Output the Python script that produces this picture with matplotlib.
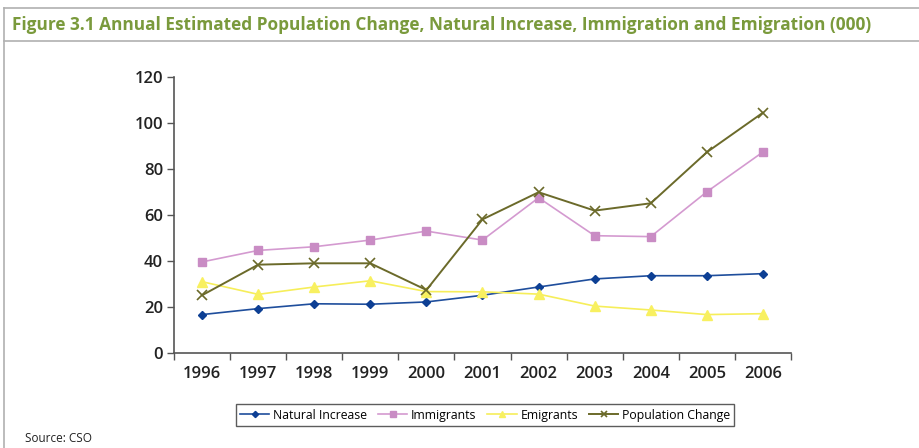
import matplotlib.pyplot as plt
from matplotlib.lines import Line2D
import numpy as np

OUTPUT_GRAPH = "out.png"

years = ["1996", "1997", "1998", "1999", "2000", "2001",
         "2002", "2003", "2004", "2005", "2006"]
natural_increase = [16.7, 19.3, 21.4, 21.2, 22.2, 25.1, 28.7, 32.2, 33.6, 33.6, 34.5]
immigrants = [39.6, 44.6, 46.2, 49.1, 53.0, 49.1, 67.5, 51.0, 50.6, 70.1, 87.4]
emigrants = [31.0, 25.5, 28.7, 31.4, 26.7, 26.6, 25.6, 20.4, 18.7, 16.7, 17.1]
population_change = [25.1, 38.4, 39.0, 39.0, 27.4, 58.1, 69.9, 61.9, 65.1, 87.3, 104.5]

plt.rcParams['font.family'] = ['Open Sans', 'DejaVu Sans']

fig = plt.figure(figsize=(9.2, 4.48), dpi=100)

# frame around the figure box
frame_color = "#b0b0b0"
fig.add_artist(Line2D([4 / 920, 1], [1 - 8 / 448] * 2, color=frame_color, lw=1.2))
fig.add_artist(Line2D([4 / 920, 1], [1 - 41 / 448] * 2, color=frame_color, lw=1.2))
fig.add_artist(Line2D([4 / 920] * 2, [0, 1 - 8 / 448], color=frame_color, lw=1.2))

fig.text(12 / 920, 1 - 25 / 448,
         "Figure 3.1 Annual Estimated Population Change, Natural Increase, Immigration and Emigration (000)",
         color="#7a9a3c", fontsize=12.45, fontweight="bold", va="center", ha="left")
fig.text(25 / 920, 1 - 438 / 448, "Source: CSO", fontsize=8.5, color="#222222",
         va="center", ha="left")

ax = fig.add_axes([174 / 920, 1 - 353 / 448, (791 - 174) / 920, (353 - 77) / 448])
x = np.arange(len(years))

ax.plot(x, natural_increase, color="#1f4e9c", lw=1.2, marker="D", ms=4.5,
        mfc="#0d3f94", mec="#0d3f94", label="Natural Increase")
ax.plot(x, immigrants, color="#d49ad0", lw=1.2, marker="s", ms=5.5,
        mfc="#c98cc4", mec="#c98cc4", label="Immigrants")
ax.plot(x, emigrants, color="#f6ee5a", lw=1.2, marker="^", ms=6.5,
        mfc="#f8f060", mec="#f8f060", label="Emigrants")
ax.plot(x, population_change, color="#6b6a2a", lw=1.4, marker="x", ms=6.5,
        mew=1.2, label="Population Change")

ax.set_xlim(-0.5, len(years) - 0.5)
ax.set_ylim(0, 120)
ax.set_yticks(range(0, 121, 20))
ax.set_xticks(x)
ax.set_xticklabels(years)
ax.set_xticks(np.arange(-0.5, len(years), 1), minor=True)
ax.tick_params(axis="x", which="major", length=0, pad=9, labelsize=12, labelcolor="#222222")
ax.tick_params(axis="x", which="minor", length=5, width=1, color="#555555", direction="out")
ax.tick_params(axis="y", length=5, width=1, color="#555555", labelsize=12,
               labelcolor="#222222", pad=3)
for lbl in ax.get_xticklabels() + ax.get_yticklabels():
    lbl.set_fontweight("semibold")

for side in ["top", "right"]:
    ax.spines[side].set_visible(False)
for side in ["left", "bottom"]:
    ax.spines[side].set_color("#555555")
    ax.spines[side].set_linewidth(1.2)

leg = fig.legend(loc="center", bbox_to_anchor=(485 / 920, 1 - 415 / 448), ncol=4,
                 fontsize=8.8, frameon=True, fancybox=False, edgecolor="#333333",
                 handlelength=2.4, handletextpad=0.3, columnspacing=0.9,
                 borderpad=0.35, markerscale=0.7)
leg.get_frame().set_linewidth(1.0)

fig.savefig(OUTPUT_GRAPH, dpi=100)
